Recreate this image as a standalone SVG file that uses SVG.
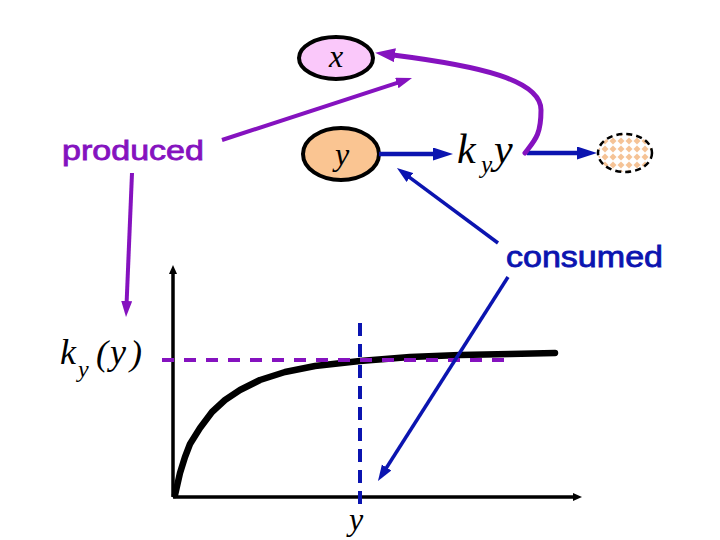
<svg xmlns="http://www.w3.org/2000/svg" width="720" height="540" viewBox="0 0 720 540">
<style>
.lbl{font-family:"Liberation Sans",Arial,sans-serif;stroke-width:0.8;}
.math{font-family:"Liberation Serif","Times New Roman",serif;font-style:italic;fill:#000;}
.node{stroke:#000;stroke-width:4;}
.pu{stroke:#8512bf;fill:none;}
.bl{stroke:#0b14b0;fill:none;}
</style>
<defs>
<marker id="ab" markerUnits="userSpaceOnUse" markerWidth="22" markerHeight="14" refX="2" refY="6.5" orient="auto"><path d="M0,0 L20,6.5 L0,13 z" fill="#0b14b0"/></marker>
<marker id="abs" markerUnits="userSpaceOnUse" markerWidth="18" markerHeight="12" refX="2" refY="5.5" orient="auto"><path d="M0,0 L16,5.5 L0,11 z" fill="#0b14b0"/></marker>
<marker id="aps" markerUnits="userSpaceOnUse" markerWidth="18" markerHeight="12" refX="2" refY="5.5" orient="auto"><path d="M0,0 L16,5.5 L0,11 z" fill="#8512bf"/></marker>
<marker id="apl" markerUnits="userSpaceOnUse" markerWidth="22" markerHeight="16" refX="2" refY="7" orient="auto"><path d="M0,0 L20,7 L0,14 z" fill="#8512bf"/></marker>
<marker id="ak" markerUnits="userSpaceOnUse" markerWidth="12" markerHeight="10" refX="1" refY="4" orient="auto"><path d="M0,0 L9,4 L0,8 z" fill="#000"/></marker>
<pattern id="chk" patternUnits="userSpaceOnUse" width="8" height="8" x="1" y="1"><rect width="8" height="8" fill="#fff"/><path d="M4,0.5 L7.5,4 L4,7.5 L0.5,4 z" fill="#f5c396"/></pattern>
</defs>

<g id="graph">
<line x1="173" y1="497" x2="173" y2="273" stroke="#000" stroke-width="3.5" marker-end="url(#ak)"/>
<line x1="173" y1="497" x2="574" y2="497" stroke="#000" stroke-width="3.5" marker-end="url(#ak)"/>
<path d="M175,495 L180,473 L185,457 L190,444 L200,428 L212,412 L225,400 L240,390 L260,380 L285,372 L315,366 L360,361 L410,357 L460,355 L510,354 L555,353" fill="none" stroke="#000" stroke-width="6.5" stroke-linejoin="round" stroke-linecap="round"/>
<line x1="162" y1="360" x2="510" y2="360" stroke="#8512bf" stroke-width="4" stroke-dasharray="12 10"/>
<line x1="360" y1="323" x2="360" y2="505" stroke="#0b14b0" stroke-width="4" stroke-dasharray="13 8"/>
<text class="math" x="349" y="530" font-size="32">y</text>
<text class="math" x="60" y="364" font-size="36">k</text>
<text class="math" x="78" y="377" font-size="24">y</text>
<text class="math" x="96" y="365" font-size="36" font-style="normal">(</text>
<text class="math" x="110" y="364" font-size="36">y</text>
<text class="math" x="130" y="365" font-size="36" font-style="normal">)</text>
</g>

<g id="node-x">
<ellipse class="node" cx="336" cy="58" rx="37" ry="21" fill="#fac8fa"/>
<text class="math" x="336" y="67" font-size="32" text-anchor="middle">x</text>
</g>

<g id="node-y">
<ellipse class="node" cx="341" cy="154" rx="38" ry="26" fill="#fac592"/>
<text class="math" x="342" y="165" font-size="32" text-anchor="middle">y</text>
</g>

<g id="node-sink">
<ellipse cx="625" cy="153" rx="27" ry="19" fill="url(#chk)" stroke="#000" stroke-width="2.5" stroke-dasharray="6 4"/>
</g>

<g id="node-rate">
<text class="math" x="457" y="163" font-size="42">k</text>
<text class="math" x="481" y="173" font-size="25">y</text>
<text class="math" x="494" y="163" font-size="42">y</text>
</g>

<g id="label-produced">
<text class="lbl" x="62" y="160" font-size="28" fill="#8512bf" stroke="#8512bf" textLength="142" lengthAdjust="spacingAndGlyphs">produced</text>
</g>
<g id="label-consumed">
<text class="lbl" x="506" y="267" font-size="29" fill="#0b14b0" stroke="#0b14b0" textLength="157" lengthAdjust="spacingAndGlyphs">consumed</text>
</g>

<g id="connectors">
<line class="bl" x1="379" y1="154" x2="435" y2="154" stroke-width="4.5" marker-end="url(#ab)"/>
<line class="bl" x1="527" y1="153" x2="579" y2="153" stroke-width="4.5" marker-end="url(#ab)"/>
<path class="pu" d="M525,153 C535,140 541,135 541,110 C541,80 480,66 393,55" stroke-width="5" stroke-linecap="round" marker-end="url(#apl)"/>
<line class="pu" x1="222" y1="140" x2="398.7" y2="82.3" stroke-width="4" marker-end="url(#aps)"/>
<line class="pu" x1="132" y1="173" x2="126.6" y2="303" stroke-width="4" marker-end="url(#aps)"/>
<line class="bl" x1="498" y1="243" x2="408.2" y2="176.3" stroke-width="3.5" marker-end="url(#abs)"/>
<line class="bl" x1="508" y1="277" x2="385.5" y2="469.2" stroke-width="3.5" marker-end="url(#abs)"/>
</g>
</svg>
